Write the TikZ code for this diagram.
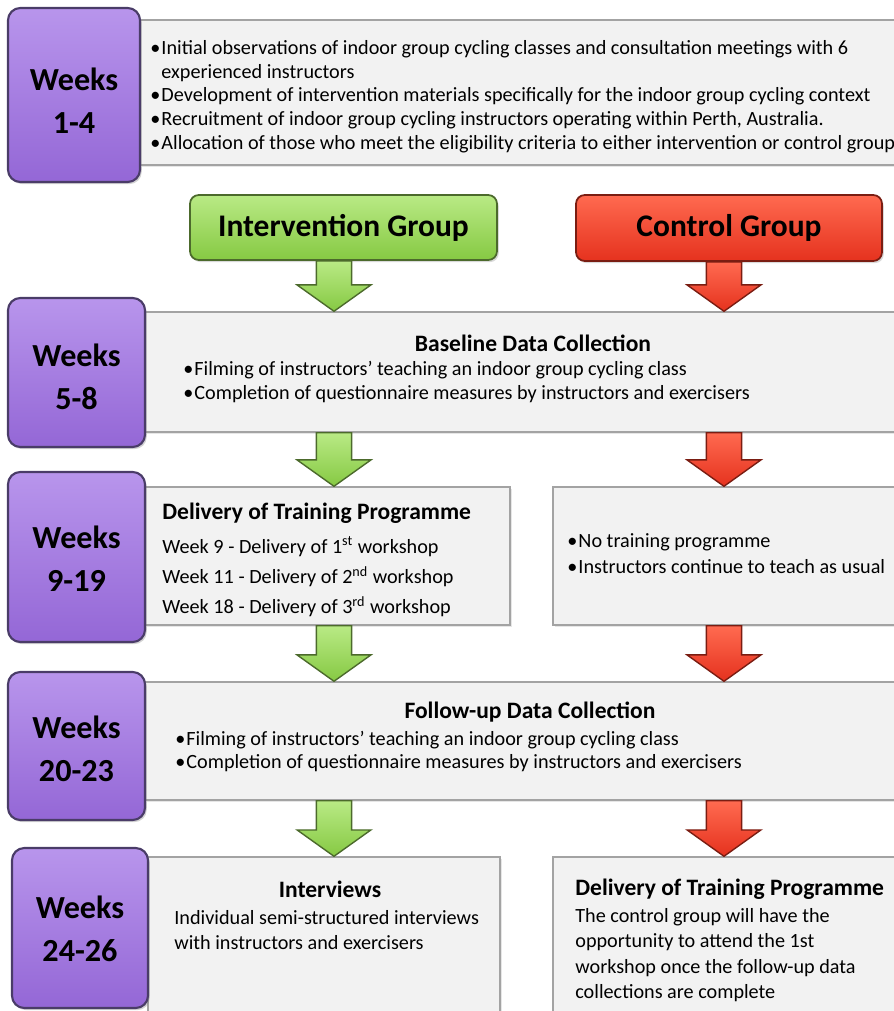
\documentclass[tikz,border=0pt]{standalone}
\usepackage{fontspec}
\setmainfont{Carlito}
\usetikzlibrary{positioning,fit,calc,shadows}
\definecolor{wkPurple}{HTML}{9467D6}
\definecolor{wkPurpleLt}{HTML}{B895EC}
\definecolor{wkPurpleDk}{HTML}{4A3C68}
\definecolor{boxGray}{HTML}{F2F2F2}
\definecolor{boxEdge}{HTML}{A3A3A3}
\definecolor{grpGreen}{HTML}{86C943}
\definecolor{grpGreenLt}{HTML}{B9EA85}
\definecolor{grpGreenDk}{HTML}{4C6A2C}
\definecolor{grpRed}{HTML}{E5321E}
\definecolor{grpRedLt}{HTML}{FF6A50}
\definecolor{grpRedDk}{HTML}{7A1D12}
\tikzset{
  weekbox/.style={rounded corners=7pt, draw=wkPurpleDk, line width=1.2pt,
                  top color=wkPurpleLt, bottom color=wkPurple, inner sep=0pt,
                  drop shadow={opacity=0.35, shadow xshift=1pt, shadow yshift=-1.2pt}},
  weektext/.style={inner sep=0pt, align=center,
                   font=\fontsize{18.3}{24.4}\selectfont\bfseries},
  infobox/.style={draw=boxEdge, fill=boxGray, line width=0.8pt, inner sep=0pt,
                  drop shadow={opacity=0.2, shadow xshift=1pt, shadow yshift=-1pt}},
  groupbox/.style={rounded corners=5pt, line width=1pt, inner sep=0pt,
                   drop shadow={opacity=0.3, shadow xshift=1pt, shadow yshift=-1.2pt}},
  grouptext/.style={inner sep=0pt, font=\fontsize{17.9}{20}\selectfont\bfseries},
  ingroup/.style={groupbox, draw=grpGreenDk, top color=grpGreenLt, bottom color=grpGreen},
  ctlgroup/.style={groupbox, draw=grpRedDk, top color=grpRedLt, bottom color=grpRed},
  inarrow/.style={draw=grpGreenDk, line width=0.8pt, top color=grpGreenLt, bottom color=grpGreen},
  ctlarrow/.style={draw=grpRedDk, line width=0.8pt, top color=grpRedLt, bottom color=grpRed},
  bodytext/.style={inner sep=0pt, align=left, font=\fontsize{11.5}{13.5}\selectfont},
  titletext/.style={inner sep=0pt, font=\fontsize{13.4}{15}\selectfont\bfseries},
}
% bullet and hanging indent
\newcommand{\bl}{\makebox[0.55em][l]{•}}
\newcommand{\bi}{\hspace*{0.55em}}
% block arrow from one point down to another
\newcommand{\blockarrow}[3]{%
  \path[#1] let \p1=(#2), \p2=(#3) in
    (\x1-10pt,\y1) -- (\x1-10pt,\y2+15pt) -- (\x1-21pt,\y2+15pt) -- (\x1,\y2)
    -- (\x1+21pt,\y2+15pt) -- (\x1+10pt,\y2+15pt) -- (\x1+10pt,\y1) -- cycle;}

\begin{document}
\begin{tikzpicture}[x=0.02cm, y=-0.02cm]
\useasboundingbox (0,0) rectangle (893,1011);
\coordinate (incol) at (334,0);   % column of the intervention arrows
\coordinate (ctlcol) at (724,0);  % column of the control arrows

%% Grey content boxes
\node[infobox, fit={(140,20) (900,165)}] (g1) {};
\node[infobox, fit={(145,312) (900,432)}] (g2) {};
\node[infobox, fit={(145,487) (510,625)}] (g3a) {};
\node[infobox, fit={(553,487) (900,625)}] (g3b) {};
\node[infobox, fit={(145,682) (900,800)}] (g4) {};
\node[infobox, fit={(148,857) (500,1030)}] (g5a) {};
\node[infobox, fit={(553,857) (900,1030)}] (g5b) {};

%% Week boxes: name / corners / label / text drop
\foreach \nm/\xa/\ya/\xb/\yb/\wk/\dy in {
  w1/8/8/140/182/1-4/6,
  w2/8/298/145/447/5-8/4,
  w3/8/472/145/642/9-19/2,
  w4/8/672/145/820/20-23/3,
  w5/12/848/148/1008/24-26/1%
} {
  \node[weekbox, fit={(\xa,\ya) (\xb,\yb)}] (\nm) {};
  \node[weektext] (\nm t) at ($(\nm.center)+(0,\dy)$) {Weeks\\\wk};
}

%% Group headers
\node[ingroup, fit={(190,195) (497,260)}] (ig) {};
\node[grouptext] (igt) at (ig.center) {Intervention Group};
\node[ctlgroup, fit={(576,195) (882,261)}] (cg) {};
\node[grouptext] (cgt) at (cg.center) {Control Group};

%% Arrows
\blockarrow{inarrow}{ig.south -| incol}{g2.north -| incol}
\blockarrow{ctlarrow}{cg.south -| ctlcol}{g2.north -| ctlcol}
\blockarrow{inarrow}{g2.south -| incol}{g3a.north -| incol}
\blockarrow{ctlarrow}{g2.south -| ctlcol}{g3b.north -| ctlcol}
\blockarrow{inarrow}{g3a.south -| incol}{g4.north -| incol}
\blockarrow{ctlarrow}{g3b.south -| ctlcol}{g4.north -| ctlcol}
\blockarrow{inarrow}{g4.south -| incol}{g5a.north -| incol}
\blockarrow{ctlarrow}{g4.south -| ctlcol}{g5b.north -| ctlcol}

%% Texts
\node[bodytext, anchor=west] (t1) at (150,96.5) {\bl Initial observations of indoor group cycling classes and consultation meetings with 6\\
  \bi experienced instructors\\
  \bl Development of intervention materials specifically for the indoor group cycling context\\
  \bl Recruitment of indoor group cycling instructors operating within Perth, Australia.\\
  \bl Allocation of those who meet the eligibility criteria to either intervention or control group};

\node[titletext] (t2a) at (533,343) {Baseline Data Collection};
\node[bodytext, anchor=west] (t2b) at (183,382) {\bl Filming of instructors’ teaching an indoor group cycling class\\
  \bl Completion of questionnaire measures by instructors and exercisers};

\node[titletext, anchor=west] (t3a) at (162,513) {Delivery of Training Programme};
\node[bodytext, anchor=west, font=\fontsize{11.5}{17.2}\selectfont] (t3b) at (162,577) {Week 9 - Delivery of 1\textsuperscript{st} workshop\\
  Week 11 - Delivery of 2\textsuperscript{nd} workshop\\
  Week 18 - Delivery of 3\textsuperscript{rd} workshop};
\node[bodytext, anchor=west, font=\fontsize{11.5}{14.7}\selectfont] (t3c) at (567,554) {\bl No training programme\\
  \bl Instructors continue to teach as usual};

\node[titletext] (t4a) at (530,712) {Follow-up Data Collection};
\node[bodytext, anchor=west] (t4b) at (175,751.5) {\bl Filming of instructors’ teaching an indoor group cycling class\\
  \bl Completion of questionnaire measures by instructors and exercisers};

\node[titletext] (t5a) at (330,889) {Interviews};
\node[bodytext, anchor=west, font=\fontsize{11.5}{14.2}\selectfont] (t5b) at (174,930) {Individual semi-structured interviews\\
  with instructors and exercisers};
\node[titletext, anchor=west] (t5c) at (575,889) {Delivery of Training Programme};
\node[bodytext, anchor=west, font=\fontsize{11.5}{14.4}\selectfont] (t5d) at (575,955) {The control group will have the\\
  opportunity to attend the 1st\\
  workshop once the follow-up data\\
  collections are complete};
\end{tikzpicture}
\end{document}
